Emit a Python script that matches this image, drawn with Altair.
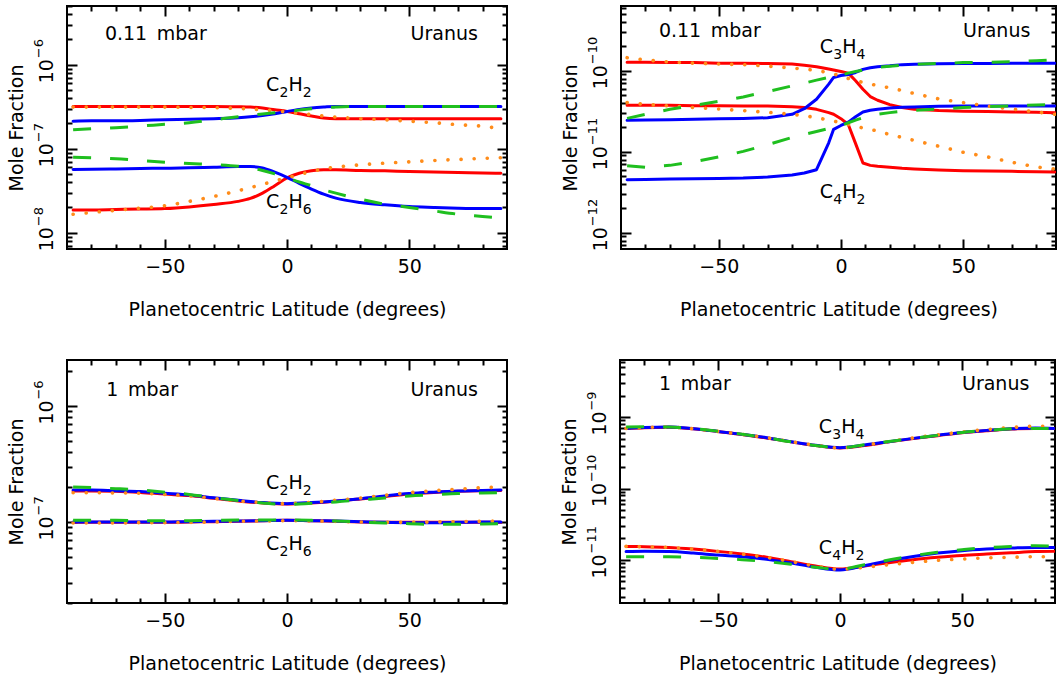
import math
import altair as alt
import pandas as pd

FONT = "DejaVu Sans"
FS = 19
FS_SMALL = 13

# ---------------- latitude grids ----------------
LAT_A = [-87.5, -80, -70, -60, -50, -40, -30, -20, -15, -10, -5, 0, 5, 10, 15, 20, 30, 40, 50, 60, 70, 80, 87.5]
LAT_B = [-87.5, -80, -70, -60, -50, -40, -30, -20, -15, -10, -5, -3, 0, 3, 6, 9, 12, 15, 20, 25, 30, 40, 50, 60, 70, 80, 87.5]
LAT_C = [-87.5, -80, -70, -60, -50, -40, -30, -20, -10, 0, 10, 20, 30, 40, 50, 60, 70, 80, 87.5]
LAT_D = LAT_C

# ---------------- panel A: 0.11 mbar, C2H2 / C2H6 ----------------
A_C2H2_RED = [3.19e-7, 3.19e-7, 3.19e-7, 3.19e-7, 3.19e-7, 3.19e-7, 3.19e-7, 3.16e-7, 3.13e-7, 3.05e-7, 2.91e-7, 2.78e-7,
              2.61e-7, 2.45e-7, 2.32e-7, 2.28e-7, 2.28e-7, 2.28e-7, 2.28e-7, 2.28e-7, 2.28e-7, 2.28e-7, 2.28e-7]
A_C2H2_ORANGE = [3.13e-7, 3.13e-7, 3.13e-7, 3.13e-7, 3.13e-7, 3.10e-7, 3.08e-7, 3.02e-7, 2.97e-7, 2.91e-7, 2.83e-7, 2.73e-7,
                 2.64e-7, 2.54e-7, 2.45e-7, 2.38e-7, 2.28e-7, 2.21e-7, 2.13e-7, 2.04e-7, 1.93e-7, 1.85e-7, 1.73e-7]
A_C2H2_BLUE = [2.13e-7, 2.15e-7, 2.15e-7, 2.17e-7, 2.21e-7, 2.24e-7, 2.28e-7, 2.34e-7, 2.40e-7, 2.49e-7, 2.61e-7, 2.78e-7,
               2.94e-7, 3.05e-7, 3.13e-7, 3.19e-7, 3.19e-7, 3.19e-7, 3.19e-7, 3.19e-7, 3.19e-7, 3.19e-7, 3.19e-7]
A_C2H2_GREEN = [1.68e-7, 1.73e-7, 1.78e-7, 1.86e-7, 1.95e-7, 2.04e-7, 2.21e-7, 2.40e-7, 2.49e-7, 2.59e-7, 2.68e-7, 2.78e-7,
                2.88e-7, 2.99e-7, 3.08e-7, 3.13e-7, 3.19e-7, 3.19e-7, 3.19e-7, 3.19e-7, 3.19e-7, 3.19e-7, 3.19e-7]
A_C2H6_RED = [1.87e-8, 1.87e-8, 1.89e-8, 1.91e-8, 1.94e-8, 2.03e-8, 2.17e-8, 2.36e-8, 2.56e-8, 2.96e-8, 3.63e-8, 4.49e-8,
              5.11e-8, 5.45e-8, 5.60e-8, 5.60e-8, 5.50e-8, 5.45e-8, 5.35e-8, 5.30e-8, 5.20e-8, 5.15e-8, 5.11e-8]
A_C2H6_ORANGE = [1.66e-8, 1.74e-8, 1.85e-8, 1.96e-8, 2.09e-8, 2.36e-8, 2.70e-8, 3.16e-8, 3.44e-8, 3.77e-8, 4.13e-8, 4.49e-8,
                 4.92e-8, 5.35e-8, 5.75e-8, 6.03e-8, 6.43e-8, 6.73e-8, 6.98e-8, 7.24e-8, 7.45e-8, 7.66e-8, 7.80e-8]
A_C2H6_BLUE = [5.65e-8, 5.70e-8, 5.75e-8, 5.81e-8, 5.86e-8, 5.92e-8, 6.03e-8, 6.14e-8, 6.14e-8, 5.92e-8, 5.25e-8, 4.57e-8,
               3.87e-8, 3.31e-8, 2.88e-8, 2.58e-8, 2.29e-8, 2.15e-8, 2.05e-8, 2.00e-8, 1.96e-8, 1.94e-8, 1.94e-8]
A_C2H6_GREEN = [7.94e-8, 7.80e-8, 7.59e-8, 7.24e-8, 6.92e-8, 6.67e-8, 6.49e-8, 6.19e-8, 5.92e-8, 5.50e-8, 5.01e-8, 4.49e-8,
                4.02e-8, 3.63e-8, 3.25e-8, 2.96e-8, 2.51e-8, 2.19e-8, 2.00e-8, 1.82e-8, 1.66e-8, 1.56e-8, 1.49e-8]

# ---------------- panel B: 0.11 mbar, C3H4 / C4H2 ----------------
B_C3H4_RED = [1.27e-10, 1.27e-10, 1.26e-10, 1.26e-10, 1.24e-10, 1.24e-10, 1.23e-10, 1.21e-10, 1.17e-10, 1.12e-10, 1.05e-10,
              1.02e-10, 9.8e-11, 9.35e-11, 7.51e-11, 5.92e-11, 4.80e-11, 4.32e-11, 3.82e-11, 3.51e-11, 3.34e-11, 3.22e-11,
              3.16e-11, 3.13e-11, 3.10e-11, 3.07e-11, 3.04e-11]
B_C3H4_ORANGE = [1.45e-10, 1.36e-10, 1.28e-10, 1.24e-10, 1.21e-10, 1.19e-10, 1.14e-10, 1.08e-10, 1.05e-10, 1.01e-10, 9.44e-11,
                 9.18e-11, 8.51e-11, 8.03e-11, 7.58e-11, 7.16e-11, 6.83e-11, 6.58e-11, 6.15e-11, 5.70e-11, 5.23e-11, 4.49e-11,
                 4.04e-11, 3.67e-11, 3.37e-11, 3.10e-11, 2.90e-11]
B_C3H4_BLUE = [2.44e-11, 2.46e-11, 2.48e-11, 2.51e-11, 2.56e-11, 2.58e-11, 2.63e-11, 2.90e-11, 3.40e-11, 4.45e-11, 6.83e-11,
               8.26e-11, 8.75e-11, 9.0e-11, 9.53e-11, 1.04e-10, 1.09e-10, 1.12e-10, 1.15e-10, 1.19e-10, 1.20e-10, 1.22e-10,
               1.23e-10, 1.23e-10, 1.24e-10, 1.24e-10, 1.24e-10]
B_C3H4_GREEN = [2.58e-11, 2.90e-11, 3.34e-11, 3.74e-11, 4.20e-11, 4.75e-11, 5.54e-11, 6.51e-11, 7.03e-11, 7.66e-11, 8.26e-11,
                8.51e-11, 8.84e-11, 9.35e-11, 9.8e-11, 1.02e-10, 1.06e-10, 1.10e-10, 1.14e-10, 1.17e-10, 1.20e-10, 1.23e-10,
                1.26e-10, 1.27e-10, 1.29e-10, 1.33e-10, 1.37e-10]
B_C4H2_RED = [3.74e-11, 3.74e-11, 3.74e-11, 3.71e-11, 3.71e-11, 3.67e-11, 3.67e-11, 3.60e-11, 3.51e-11, 3.34e-11, 3.04e-11,
              2.90e-11, 2.56e-11, 2.17e-11, 1.26e-11, 7.27e-12, 6.79e-12, 6.61e-12, 6.42e-12, 6.24e-12, 6.12e-12, 5.94e-12,
              5.83e-12, 5.78e-12, 5.73e-12, 5.67e-12, 5.62e-12]
B_C4H2_ORANGE = [4.04e-11, 3.85e-11, 3.67e-11, 3.51e-11, 3.37e-11, 3.22e-11, 3.07e-11, 2.90e-11, 2.79e-11, 2.63e-11, 2.46e-11,
                 2.39e-11, 2.28e-11, 2.17e-11, 2.07e-11, 1.96e-11, 1.89e-11, 1.80e-11, 1.63e-11, 1.50e-11, 1.38e-11, 1.17e-11,
                 9.86e-12, 8.63e-12, 7.41e-12, 6.48e-12, 6.12e-12]
B_C4H2_BLUE = [4.51e-12, 4.55e-12, 4.60e-12, 4.64e-12, 4.69e-12, 4.73e-12, 4.87e-12, 5.16e-12, 5.46e-12, 6.0e-12, 1.29e-11,
               1.89e-11, 2.11e-11, 2.32e-11, 2.71e-11, 3.10e-11, 3.25e-11, 3.34e-11, 3.47e-11, 3.54e-11, 3.57e-11, 3.64e-11,
               3.67e-11, 3.67e-11, 3.67e-11, 3.67e-11, 3.67e-11]
B_C4H2_GREEN = [6.73e-12, 6.42e-12, 6.79e-12, 7.55e-12, 8.63e-12, 1.01e-11, 1.22e-11, 1.50e-11, 1.63e-11, 1.78e-11, 1.94e-11,
                2.01e-11, 2.11e-11, 2.28e-11, 2.46e-11, 2.63e-11, 2.76e-11, 2.90e-11, 3.04e-11, 3.16e-11, 3.25e-11, 3.37e-11,
                3.51e-11, 3.60e-11, 3.67e-11, 3.78e-11, 3.85e-11]

# ---------------- panel C: 1 mbar, C2H2 / C2H6 ----------------
C_C2H2_RED = [1.85e-7, 1.85e-7, 1.84e-7, 1.80e-7, 1.74e-7, 1.69e-7, 1.60e-7, 1.52e-7, 1.46e-7, 1.43e-7, 1.46e-7, 1.51e-7,
              1.58e-7, 1.66e-7, 1.74e-7, 1.80e-7, 1.84e-7, 1.86e-7, 1.87e-7]
C_C2H2_ORANGE = [1.79e-7, 1.79e-7, 1.78e-7, 1.77e-7, 1.73e-7, 1.68e-7, 1.60e-7, 1.52e-7, 1.47e-7, 1.44e-7, 1.48e-7, 1.54e-7,
                 1.61e-7, 1.70e-7, 1.79e-7, 1.86e-7, 1.92e-7, 1.98e-7, 2.00e-7]
C_C2H2_BLUE = [1.89e-7, 1.89e-7, 1.86e-7, 1.83e-7, 1.77e-7, 1.71e-7, 1.62e-7, 1.54e-7, 1.47e-7, 1.44e-7, 1.47e-7, 1.52e-7,
               1.59e-7, 1.68e-7, 1.76e-7, 1.81e-7, 1.85e-7, 1.87e-7, 1.89e-7]
C_C2H2_GREEN = [2.00e-7, 1.98e-7, 1.94e-7, 1.89e-7, 1.81e-7, 1.73e-7, 1.62e-7, 1.53e-7, 1.46e-7, 1.42e-7, 1.45e-7, 1.49e-7,
                1.55e-7, 1.61e-7, 1.68e-7, 1.72e-7, 1.76e-7, 1.78e-7, 1.79e-7]
C_C2H6_RED = [9.93e-8, 9.93e-8, 9.93e-8, 9.93e-8, 9.93e-8, 1.0e-7, 1.007e-7, 1.013e-7, 1.026e-7, 1.033e-7, 1.026e-7, 1.013e-7,
              1.0e-7, 9.93e-8, 9.93e-8, 9.93e-8, 9.93e-8, 9.93e-8, 9.93e-8]
C_C2H6_ORANGE = [9.80e-8, 9.80e-8, 9.80e-8, 9.87e-8, 9.87e-8, 9.93e-8, 1.0e-7, 1.013e-7, 1.02e-7, 1.026e-7, 1.02e-7, 1.013e-7,
                 1.0e-7, 9.93e-8, 9.93e-8, 1.0e-7, 1.007e-7, 1.013e-7, 1.02e-7]
C_C2H6_BLUE = [1.0e-7, 1.0e-7, 1.0e-7, 1.0e-7, 1.0e-7, 1.007e-7, 1.013e-7, 1.02e-7, 1.026e-7, 1.033e-7, 1.026e-7, 1.02e-7,
               1.007e-7, 9.93e-8, 9.87e-8, 9.87e-8, 9.93e-8, 1.0e-7, 1.0e-7]
C_C2H6_GREEN = [1.033e-7, 1.033e-7, 1.033e-7, 1.026e-7, 1.026e-7, 1.026e-7, 1.033e-7, 1.04e-7, 1.04e-7, 1.04e-7, 1.033e-7,
                1.02e-7, 1.0e-7, 9.80e-8, 9.68e-8, 9.55e-8, 9.55e-8, 9.61e-8, 9.68e-8]

# ---------------- panel D: 1 mbar, C3H4 / C4H2 ----------------
D_C3H4_RED = [6.9e-10, 7.1e-10, 7.2e-10, 6.85e-10, 6.3e-10, 5.7e-10, 5.1e-10, 4.5e-10, 4.0e-10, 3.7e-10, 4.0e-10, 4.5e-10,
              5.0e-10, 5.5e-10, 6.05e-10, 6.45e-10, 6.8e-10, 6.95e-10, 6.9e-10]
D_C3H4_ORANGE = [6.95e-10, 7.18e-10, 7.25e-10, 6.88e-10, 6.31e-10, 5.73e-10, 5.15e-10, 4.53e-10, 4.03e-10, 3.70e-10, 4.05e-10,
                 4.55e-10, 5.10e-10, 5.65e-10, 6.20e-10, 6.70e-10, 7.15e-10, 7.45e-10, 7.40e-10]
D_C3H4_BLUE = [6.95e-10, 7.18e-10, 7.25e-10, 6.88e-10, 6.31e-10, 5.73e-10, 5.15e-10, 4.53e-10, 4.03e-10, 3.73e-10, 4.07e-10,
               4.53e-10, 5.04e-10, 5.55e-10, 6.11e-10, 6.52e-10, 6.88e-10, 7.03e-10, 6.95e-10]
D_C3H4_GREEN = [7.25e-10, 7.3e-10, 7.25e-10, 6.9e-10, 6.35e-10, 5.75e-10, 5.15e-10, 4.5e-10, 4.0e-10, 3.73e-10, 4.1e-10,
                4.55e-10, 5.05e-10, 5.55e-10, 6.1e-10, 6.5e-10, 6.85e-10, 6.95e-10, 6.95e-10]
D_C4H2_RED = [1.55e-11, 1.53e-11, 1.50e-11, 1.42e-11, 1.32e-11, 1.21e-11, 1.09e-11, 9.48e-12, 8.24e-12, 7.48e-12, 8.24e-12,
              9.18e-12, 1.01e-11, 1.09e-11, 1.16e-11, 1.21e-11, 1.26e-11, 1.31e-11, 1.32e-11]
D_C4H2_ORANGE = [1.55e-11, 1.53e-11, 1.50e-11, 1.42e-11, 1.32e-11, 1.21e-11, 1.09e-11, 9.48e-12, 8.24e-12, 7.41e-12, 7.91e-12,
                 8.60e-12, 9.27e-12, 9.89e-12, 1.03e-11, 1.07e-11, 1.09e-11, 1.11e-11, 1.11e-11]
D_C4H2_BLUE = [1.31e-11, 1.32e-11, 1.31e-11, 1.25e-11, 1.17e-11, 1.11e-11, 1.02e-11, 9.08e-12, 7.91e-12, 7.25e-12, 8.33e-12,
               9.79e-12, 1.12e-11, 1.25e-11, 1.35e-11, 1.42e-11, 1.47e-11, 1.50e-11, 1.50e-11]
D_C4H2_GREEN = [1.11e-11, 1.11e-11, 1.11e-11, 1.09e-11, 1.05e-11, 1.01e-11, 9.48e-12, 8.71e-12, 7.91e-12, 7.41e-12, 8.60e-12,
                1.0e-11, 1.15e-11, 1.28e-11, 1.39e-11, 1.49e-11, 1.55e-11, 1.585e-11, 1.55e-11]

# ---------------- y-axis domains and decade labels ----------------
A_YDOM = [6.4e-9, 5.0e-6]
B_YDOM = [6.3e-13, 6.3e-10]
C_YDOM = [2.0e-8, 2.5e-6]
D_YDOM = [2.5e-12, 6.3e-9]
A_YTICKS = [1e-8, 1e-7, 1e-6]
A_YEXP = ["\u22128", "\u22127", "\u22126"]
B_YTICKS = [1e-12, 1e-11, 1e-10]
B_YEXP = ["\u221212", "\u221211", "\u221210"]
C_YTICKS = [1e-7, 1e-6]
C_YEXP = ["\u22127", "\u22126"]
D_YTICKS = [1e-11, 1e-10, 1e-9]
D_YEXP = ["\u221211", "\u221210", "\u22129"]
Y_BASE = "10"

X_LABEL_TICKS = [-50, 0, 50]
X_ALL_TICKS = [-80, -70, -60, -50, -40, -30, -20, -10, 0, 10, 20, 30, 40, 50, 60, 70, 80]

# ---------------- annotations ----------------
A_ANN_TEXT = ["0.11\u2002mbar", "Uranus"]
A_ANN_LAT = [-74.5, 78.1]
A_ANN_VAL = [2.34e-6, 2.34e-6]
A_SPECIES = ["C2H2", "C2H6"]
A_SPECIES_LAT = [0.8, 0.8]
A_SPECIES_VAL = [5.78e-7, 2.29e-8]

B_ANN_TEXT = ["0.11\u2002mbar", "Uranus"]
B_ANN_LAT = [-74.5, 77.5]
B_ANN_VAL = [3.08e-10, 3.08e-10]
B_SPECIES = ["C3H4", "C4H2"]
B_SPECIES_LAT = [0.7, 0.7]
B_SPECIES_VAL = [1.95e-10, 3.23e-12]

C_ANN_TEXT = ["1\u2002mbar", "Uranus"]
C_ANN_LAT = [-73.9, 78.1]
C_ANN_VAL = [1.39e-6, 1.39e-6]
C_SPECIES = ["C2H2", "C2H6"]
C_SPECIES_LAT = [0.8, 0.8]
C_SPECIES_VAL = [2.18e-7, 6.41e-8]

D_ANN_TEXT = ["1\u2002mbar", "Uranus"]
D_ANN_LAT = [-74.0, 77.5]
D_ANN_VAL = [2.92e-9, 2.92e-9]
D_SPECIES = ["C3H4", "C4H2"]
D_SPECIES_LAT = [0.7, 0.7]
D_SPECIES_VAL = [7.25e-10, 1.45e-11]

MODELS = ["red", "blue", "orange", "green"]
COLORS = {"red": "#ff0000", "blue": "#0000ff", "orange": "#ff8c1a", "green": "#1fbf1f"}

H = 243
W_LEFT = 440
W_RIGHT = 435
XDOM_LEFT = [-90, 90]
XDOM_RIGHT = [-90, 88]

MAJOR_Y_TEST = "abs(log(datum.value)/LN10 - round(log(datum.value)/LN10)) < 1e-6"
MAJOR_X_TEST = "datum.value % 50 == 0"


def minor_values(ydom):
    out = []
    for e in range(-14, -3):
        for m in range(1, 10):
            v = float(f"{m}e{e}")
            if ydom[0] <= v <= ydom[1]:
                out.append(v)
    return out


def exp_expr(ticks, labels):
    expr = "''"
    for t, lab in zip(ticks, labels):
        e = round(math.log10(t))
        expr = f"round(log(datum.value)/LN10) == {e} ? '{lab}' : ({expr})"
    return expr


def panel(lat, series, xdom, ydom, yticks, yexp, width, ann, species, interp):
    ann_text, ann_lat, ann_val = ann
    sp_names, sp_lat, sp_val = species
    yvals = minor_values(ydom)
    xs = alt.Scale(domain=xdom, nice=False, zero=False)
    ys = alt.Scale(type="log", domain=ydom, nice=False)

    ax_x_lab = alt.Axis(orient="bottom", values=X_LABEL_TICKS, format="d", ticks=False, tickSize=0, domain=False,
                        grid=False, labelPadding=8, labelFlush=False, labelOverlap=False,
                        title="Planetocentric Latitude (degrees)", titlePadding=24)
    ax_y_base = alt.Axis(orient="left", values=yticks, labelExpr=f"'{Y_BASE}'", ticks=False, tickSize=0,
                         domain=False, grid=False, labelAngle=270, labelAlign="left", labelBaseline="alphabetic",
                         labelOffset=18, labelPadding=15, labelFlush=False, labelOverlap=False,
                         title="Mole Fraction", titlePadding=11)
    ax_y_exp = alt.Axis(orient="left", values=yticks, labelExpr=exp_expr(yticks, yexp), ticks=False, tickSize=0,
                        domain=False, grid=False, labelAngle=270, labelAlign="left", labelBaseline="alphabetic",
                        labelOffset=-7, labelPadding=25, labelFontSize=FS_SMALL, labelFlush=False,
                        labelOverlap=False, title=None)
    xsize = {"condition": {"test": MAJOR_X_TEST, "value": 10}, "value": 5}
    ysize = {"condition": {"test": MAJOR_Y_TEST, "value": 10}, "value": 5}
    ax_x_in_bottom = alt.Axis(orient="top", offset=-H, values=X_ALL_TICKS, labels=False, domain=False, grid=False,
                              tickSize=xsize, title=None)
    ax_x_in_top = alt.Axis(orient="bottom", offset=-H, values=X_ALL_TICKS, labels=False, domain=False, grid=False,
                           tickSize=xsize, title=None)
    ax_y_in_left = alt.Axis(orient="right", offset=-width, values=yvals, labels=False, domain=False, grid=False,
                            tickSize=ysize, title=None)
    ax_y_in_right = alt.Axis(orient="left", offset=-width, values=yvals, labels=False, domain=False, grid=False,
                             tickSize=ysize, title=None)

    axes = {
        "red": (ax_x_lab, ax_y_base),
        "blue": (ax_x_in_bottom, ax_y_in_left),
        "orange": (ax_x_in_top, ax_y_in_right),
        "green": (None, ax_y_exp),
    }
    styles = {
        "red": dict(strokeWidth=3, strokeCap="round"),
        "blue": dict(strokeWidth=3, strokeCap="round"),
        "orange": dict(strokeWidth=3.6, strokeCap="round", strokeDash=[0.1, 13]),
        "green": dict(strokeWidth=3, strokeCap="butt", strokeDash=[18, 19]),
    }
    layers = []
    for model in MODELS:
        rows = []
        for sp, mdl, vals in series:
            if mdl != model:
                continue
            for la, v in zip(lat, vals):
                rows.append({"lat": la, "val": v, "species": sp})
        df = pd.DataFrame(rows)
        axx, axy = axes[model]
        layers.append(
            alt.Chart(df).mark_line(color=COLORS[model], interpolate=interp, clip=True, strokeJoin="round",
                                    **styles[model]).encode(
                x=alt.X("lat:Q", scale=xs, axis=axx),
                y=alt.Y("val:Q", scale=ys, axis=axy),
                detail="species:N",
            )
        )

    def text_layer(df, field, align, size, dx, dy):
        return alt.Chart(df).mark_text(align=align, baseline="middle", font=FONT, fontSize=size, color="black",
                                       dx=dx, dy=dy).encode(
            x=alt.X("lat:Q", scale=xs, axis=None),
            y=alt.Y("val:Q", scale=ys, axis=None),
            text=f"{field}:N",
        )

    adf = pd.DataFrame({"text": ann_text, "lat": ann_lat, "val": ann_val})
    layers.append(text_layer(adf.iloc[[0]], "text", "left", FS, 0, 0))
    layers.append(text_layer(adf.iloc[[1]], "text", "right", FS, 0, 0))

    sdf = pd.DataFrame({
        "lat": sp_lat, "val": sp_val,
        "p1": [s[0] for s in sp_names], "p2": [s[1] for s in sp_names],
        "p3": [s[2] for s in sp_names], "p4": [s[3] for s in sp_names],
    })
    # element symbol, subscript, element symbol, subscript
    layers.append(text_layer(sdf, "p1", "left", FS, -23, 0))
    layers.append(text_layer(sdf, "p2", "left", 14, -9.5, 8))
    layers.append(text_layer(sdf, "p3", "left", FS, -0.5, 0))
    layers.append(text_layer(sdf, "p4", "left", 14, 13.8, 8))
    return alt.layer(*layers).resolve_axis(x="independent", y="independent").properties(width=width, height=H)


pA = panel(LAT_A, [("C2H2", "red", A_C2H2_RED), ("C2H2", "orange", A_C2H2_ORANGE), ("C2H2", "blue", A_C2H2_BLUE),
                   ("C2H2", "green", A_C2H2_GREEN), ("C2H6", "red", A_C2H6_RED), ("C2H6", "orange", A_C2H6_ORANGE),
                   ("C2H6", "blue", A_C2H6_BLUE), ("C2H6", "green", A_C2H6_GREEN)],
           XDOM_LEFT, A_YDOM, A_YTICKS, A_YEXP, W_LEFT, (A_ANN_TEXT, A_ANN_LAT, A_ANN_VAL),
           (A_SPECIES, A_SPECIES_LAT, A_SPECIES_VAL), "monotone")
pB = panel(LAT_B, [("C3H4", "red", B_C3H4_RED), ("C3H4", "orange", B_C3H4_ORANGE), ("C3H4", "blue", B_C3H4_BLUE),
                   ("C3H4", "green", B_C3H4_GREEN), ("C4H2", "red", B_C4H2_RED), ("C4H2", "orange", B_C4H2_ORANGE),
                   ("C4H2", "blue", B_C4H2_BLUE), ("C4H2", "green", B_C4H2_GREEN)],
           XDOM_RIGHT, B_YDOM, B_YTICKS, B_YEXP, W_RIGHT, (B_ANN_TEXT, B_ANN_LAT, B_ANN_VAL),
           (B_SPECIES, B_SPECIES_LAT, B_SPECIES_VAL), "linear")
pC = panel(LAT_C, [("C2H2", "red", C_C2H2_RED), ("C2H2", "orange", C_C2H2_ORANGE), ("C2H2", "blue", C_C2H2_BLUE),
                   ("C2H2", "green", C_C2H2_GREEN), ("C2H6", "red", C_C2H6_RED), ("C2H6", "orange", C_C2H6_ORANGE),
                   ("C2H6", "blue", C_C2H6_BLUE), ("C2H6", "green", C_C2H6_GREEN)],
           XDOM_LEFT, C_YDOM, C_YTICKS, C_YEXP, W_LEFT, (C_ANN_TEXT, C_ANN_LAT, C_ANN_VAL),
           (C_SPECIES, C_SPECIES_LAT, C_SPECIES_VAL), "monotone")
pD = panel(LAT_D, [("C3H4", "red", D_C3H4_RED), ("C3H4", "orange", D_C3H4_ORANGE), ("C3H4", "blue", D_C3H4_BLUE),
                   ("C3H4", "green", D_C3H4_GREEN), ("C4H2", "red", D_C4H2_RED), ("C4H2", "orange", D_C4H2_ORANGE),
                   ("C4H2", "blue", D_C4H2_BLUE), ("C4H2", "green", D_C4H2_GREEN)],
           XDOM_RIGHT, D_YDOM, D_YTICKS, D_YEXP, W_RIGHT, (D_ANN_TEXT, D_ANN_LAT, D_ANN_VAL),
           (D_SPECIES, D_SPECIES_LAT, D_SPECIES_VAL), "monotone")

top = alt.hconcat(pA, pB, spacing=50)
bottom = alt.hconcat(pC, pD, spacing=50)
chart = (
    alt.vconcat(top, bottom, spacing=38)
    .properties(padding={"left": 5, "top": 4, "right": 0, "bottom": 0}, background="white")
    .configure_view(stroke="black", strokeWidth=2)
    .configure_axis(labelFont=FONT, titleFont=FONT, labelFontSize=FS, titleFontSize=FS, labelColor="black",
                    titleColor="black", titleFontWeight="normal", tickColor="black", tickWidth=2)
)

chart.save("out.html", embed_options={"renderer": "svg", "actions": False})
